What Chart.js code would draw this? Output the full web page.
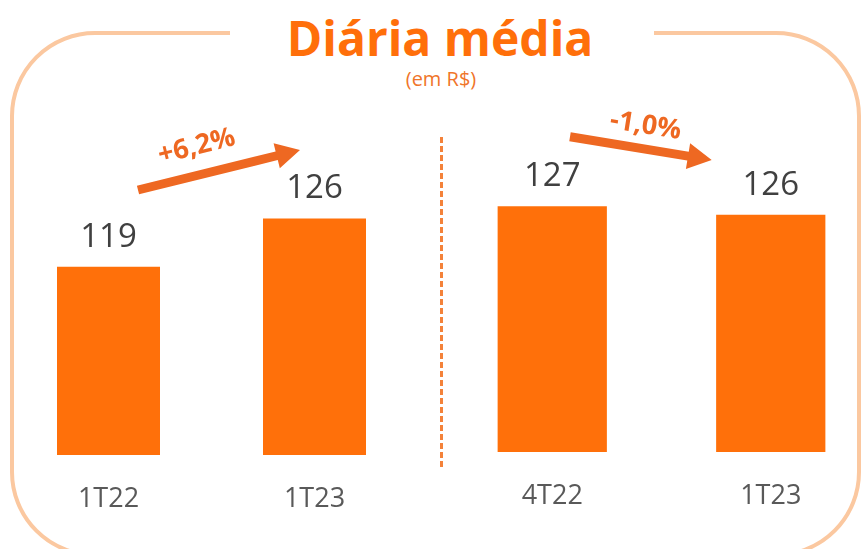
<!DOCTYPE html>
<html>
<head>
<meta charset="utf-8">
<script src="https://cdn.jsdelivr.net/npm/chart.js@4"></script>
<style>
    html, body { margin: 0; padding: 0; background: #fff; }
    body { width: 862px; height: 549px; position: relative; overflow: hidden; font-family: "Open Sans", sans-serif; }
    .frame { position: absolute; left: 10px; top: 31px; width: 851px; height: 526px; box-sizing: border-box;
             border: 4px solid #FBC8A0; border-radius: 85px; }
    .gap { position: absolute; left: 230px; top: 24px; width: 424px; height: 16px; background: #fff; }
    .title { position: absolute; left: 0; width: 880px; top: 14px; text-align: center; line-height: 1;
             font-weight: 700; font-size: 48px; color: #FF6F0A; }
    .subtitle { position: absolute; left: 0; width: 882px; top: 69px; text-align: center; line-height: 1;
                font-size: 20px; color: #F0752A; }
    .box { position: absolute; top: 0; height: 549px; }
    #leftBox { left: 0; width: 441px; }
    #rightBox { left: 442px; width: 440px; }
    svg { position: absolute; left: 0; top: 0; }
</style>
</head>
<body>
<div class="frame"></div>
<div class="gap"></div>
<div class="title">Diária média</div>
<div class="subtitle">(em R$)</div>
<div class="box" id="leftBox"><canvas id="leftChart"></canvas></div>
<div class="box" id="rightBox"><canvas id="rightChart"></canvas></div>
<svg id="overlay" width="862" height="549"></svg>
<script>
// Data
const leftLabels = ['1T22', '1T23'];
const leftValues = [119, 126];
const rightLabels = ['4T22', '1T23'];
const rightValues = [127, 126];
const changeLabels = ['+6,2%', '-1,0%'];

const barColor = '#FF700A';

// Draws value above each bar and the category name under it
const barLabels = {
    id: 'barLabels',
    afterDatasetsDraw(chart) {
        const ctx = chart.ctx;
        const meta = chart.getDatasetMeta(0);
        const values = chart.data.datasets[0].data;
        ctx.save();
        ctx.textAlign = 'center';
        ctx.textBaseline = 'alphabetic';
        meta.data.forEach((bar, i) => {
            ctx.font = '33px "Open Sans"';
            ctx.fillStyle = '#404040';
            ctx.fillText(values[i], bar.x, bar.y - 20);
            ctx.font = '27px "Open Sans"';
            ctx.fillStyle = '#595959';
            ctx.fillText(chart.data.labels[i], bar.x, chart.chartArea.bottom + 52);
        });
        ctx.restore();
    }
};

function makeChart(id, labels, values, yMin, yMax, padding) {
    return new Chart(document.getElementById(id), {
        type: 'bar',
        data: {
            labels: labels,
            datasets: [{
                data: values,
                backgroundColor: barColor,
                borderWidth: 0,
                barPercentage: 1,
                categoryPercentage: 0.5
            }]
        },
        options: {
            responsive: true,
            maintainAspectRatio: false,
            animation: false,
            layout: { padding: padding },
            scales: {
                x: { display: false },
                y: { display: false, min: yMin, max: yMax }
            },
            plugins: {
                legend: { display: false },
                tooltip: { enabled: false }
            }
        },
        plugins: [barLabels]
    });
}

makeChart('leftChart', leftLabels, leftValues, 91.75, 138.8, { left: 5.5, right: 23.5, top: 130, bottom: 94 });
makeChart('rightChart', rightLabels, rightValues, 97.4, 136.2, { left: 1, right: 2, top: 130, bottom: 97 });

// Separator and change arrows
const svg = document.getElementById('overlay');
const NS = 'http://www.w3.org/2000/svg';

function add(tag, attrs, text) {
    const el = document.createElementNS(NS, tag);
    for (const k in attrs) el.setAttribute(k, attrs[k]);
    if (text) el.textContent = text;
    svg.appendChild(el);
    return el;
}

add('line', { x1: 441.5, y1: 137, x2: 441.5, y2: 470, stroke: '#F4823A', 'stroke-width': 3, 'stroke-dasharray': '6 3' });

function arrow(x1, y1, x2, y2) {
    const len = Math.hypot(x2 - x1, y2 - y1);
    const ux = (x2 - x1) / len, uy = (y2 - y1) / len;
    const nx = -uy, ny = ux;
    const headLen = 24, headHalf = 13, shaft = 4.5;
    const bx = x2 - ux * headLen, by = y2 - uy * headLen;
    const pts = [
        [x1 + nx * shaft, y1 + ny * shaft],
        [bx + nx * shaft, by + ny * shaft],
        [bx + nx * headHalf, by + ny * headHalf],
        [x2, y2],
        [bx - nx * headHalf, by - ny * headHalf],
        [bx - nx * shaft, by - ny * shaft],
        [x1 - nx * shaft, y1 - ny * shaft]
    ];
    add('polygon', { points: pts.map(p => p.join(',')).join(' '), fill: '#EE6822' });
}

arrow(138, 190, 300, 150);
arrow(570, 136.7, 711.7, 160);

const labelStyle = { 'font-family': 'Open Sans', 'font-weight': 700, 'font-size': 27, fill: '#EE6822',
                     'text-anchor': 'middle', 'dominant-baseline': 'central' };
add('text', Object.assign({ x: 196, y: 144, transform: 'rotate(-14 196 144)' }, labelStyle), changeLabels[0]);
add('text', Object.assign({ x: 646, y: 123, transform: 'rotate(9 646 123)' }, labelStyle), changeLabels[1]);
</script>
</body>
</html>
